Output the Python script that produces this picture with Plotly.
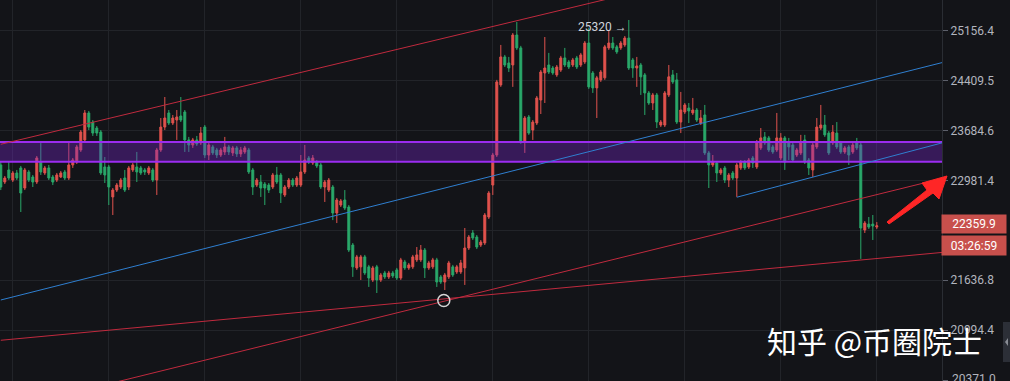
import plotly.graph_objects as go

# ---------------- data (hourly candles) ----------------
opens = [
 23197, 22959, 23127, 22987, 23085, 23155, 22876, 23099, 23029, 22959,
 23238, 23085, 23155, 23029, 22987, 23029, 23099, 23015, 23197, 23238,
 23408, 23550, 23937, 23806, 23720, 23663, 23169, 23169, 22753, 22848,
 22890, 23015, 22890, 23127, 23169, 23155, 23127, 23085, 23127, 22987,
 23408, 23734, 23937, 23792, 23835, 23893, 23951, 23550, 23479, 23550,
 23508, 23734, 23337, 23451, 23408, 23337, 23380, 23451, 23366, 23437,
 23352, 23380, 23408, 23127, 22917, 22959, 22931, 22917, 22890, 23057,
 23057, 22780, 22890, 22987, 22917, 22917, 23099, 23295, 23224, 23238,
 23197, 22890, 22848, 22890, 22533, 22642, 22711, 22615, 22102, 21798,
 21812, 21944, 21812, 21640, 21812, 21640, 21732, 21680, 21732, 21772,
 21666, 21877, 21798, 21812, 21904, 21904, 22035, 21798, 21812, 21904,
 21680, 21614, 21680, 21812, 21745, 21745, 21798, 22062, 22263, 22209,
 22102, 22129, 22479, 22917, 23337, 24346, 24761, 24671, 24641, 25091,
 24896, 23522, 23879, 23691, 23792, 24125, 24522, 24641, 24596, 24494,
 24566, 24746, 24686, 24641, 24746, 24641, 24686, 24970, 24522, 24302,
 24420, 24450, 24896, 24970, 24912, 24896, 24941, 25045, 24716, 24596,
 24641, 24494, 24228, 24081, 24199, 23763, 23763, 24199, 24494, 24420,
 23806, 23951, 24009, 23937, 23980, 23792, 23908, 23366, 23197, 23224,
 23085, 23155, 22987, 23085, 23015, 23155, 23238, 23169, 23295, 23169,
 23437, 23593, 23579, 23451, 23408, 23295, 23579, 23508, 23479, 23337,
 23366, 23550, 23266, 23127, 23451, 23720, 23763, 23648, 23508, 23648,
 23508, 23380, 23451, 23380, 23508, 23479, 22303, 22383, 22383, 22343]

highs = [
 23238, 23043, 23238, 23113, 23127, 23183, 23155, 23127, 23057, 23323,
 23508, 23183, 23197, 23057, 23085, 23113, 23127, 23508, 23295, 23479,
 23691, 23980, 23966, 23835, 23749, 23691, 23309, 23197, 22876, 22945,
 23015, 23127, 23183, 23224, 23380, 23183, 23155, 23183, 23155, 23437,
 23864, 24169, 23980, 23908, 23980, 24169, 23980, 23593, 23579, 23607,
 23734, 23763, 23508, 23479, 23437, 23437, 23593, 23479, 23465, 23465,
 23451, 23465, 23437, 23155, 23015, 23057, 22959, 22945, 23085, 23169,
 23085, 22917, 23015, 23015, 23043, 23337, 23479, 23323, 23337, 23266,
 23224, 22987, 23015, 22917, 22739, 22725, 22848, 22642, 22129, 21970,
 21970, 21970, 21838, 21825, 21838, 21732, 21759, 21759, 21759, 21798,
 21931, 21904, 21864, 21970, 22075, 22102, 22062, 21891, 21931, 21931,
 21706, 21732, 21891, 21838, 21838, 21904, 22330, 22236, 22303, 22236,
 22169, 22533, 22834, 23366, 24420, 24941, 24791, 24761, 25121, 25289,
 24927, 23893, 23908, 23835, 24184, 24566, 25061, 24821, 24626, 24641,
 24776, 24896, 24716, 24746, 24776, 24821, 25000, 25198, 24551, 24479,
 24566, 24941, 25167, 25061, 24941, 25000, 25076, 25320, 24746, 24761,
 24671, 24522, 24257, 24228, 24228, 23835, 24257, 24641, 24566, 24522,
 24243, 24081, 24081, 24155, 24009, 23980, 24053, 23394, 23337, 23252,
 23155, 23183, 23085, 23113, 23224, 23266, 23266, 23295, 23323, 23550,
 23720, 23663, 23607, 23479, 23937, 23648, 23607, 23579, 23508, 23437,
 23622, 23622, 23295, 23508, 23864, 24053, 23908, 23677, 23763, 23806,
 23536, 23465, 23479, 23508, 23579, 23508, 22424, 22479, 22506, 22410]

lows = [
 22848, 22931, 22987, 22959, 22987, 22547, 22848, 22959, 22890, 22931,
 23057, 23057, 22987, 22917, 22959, 23015, 22987, 22987, 23155, 23210,
 23380, 23522, 23691, 23607, 23607, 23057, 22945, 22642, 22506, 22821,
 22862, 22821, 22848, 23099, 22959, 23057, 23057, 23057, 22959, 22780,
 23380, 23691, 23763, 23763, 23550, 23806, 23380, 23380, 23437, 23465,
 23479, 23295, 23266, 23337, 23295, 23309, 23337, 23337, 23323, 23309,
 23309, 23352, 23071, 22780, 22890, 22753, 22642, 22807, 22862, 22931,
 22670, 22753, 22862, 22890, 22890, 22890, 23071, 23210, 23197, 23155,
 22862, 22684, 22821, 22437, 22397, 22615, 22574, 22008, 21680, 21772,
 21640, 21706, 21549, 21614, 21470, 21614, 21653, 21653, 21666, 21640,
 21640, 21772, 21772, 21785, 21877, 21877, 21666, 21772, 21785, 21549,
 21588, 21509, 21653, 21680, 21719, 21719, 21575, 22035, 22169, 22048,
 22075, 22102, 22452, 22780, 23309, 24317, 24611, 24537, 24317, 24866,
 23494, 23366, 23622, 23550, 23763, 23922, 24081, 24507, 24494, 24465,
 24537, 24611, 24581, 24611, 24581, 24611, 24656, 24287, 24228, 23864,
 24390, 24420, 24866, 24866, 24806, 24866, 24912, 24566, 24450, 24317,
 24199, 23908, 24053, 23980, 23720, 23734, 23734, 24169, 24361, 23778,
 23648, 23922, 23792, 23908, 23806, 23763, 23337, 22876, 23169, 22959,
 23057, 22945, 22890, 22987, 22753, 23127, 23127, 23141, 23155, 23141,
 23408, 23479, 23380, 23352, 23380, 23266, 23127, 23266, 23238, 23309,
 23337, 23210, 23057, 23029, 23423, 23691, 23593, 23337, 23479, 23423,
 23352, 23352, 23197, 23352, 23408, 21917, 22263, 22317, 22169, 22317]

closes = [
 22890, 23015, 23015, 23085, 23015, 22807, 23127, 22987, 22959, 23295,
 23099, 23155, 23015, 22959, 23057, 23085, 23015, 23197, 23266, 23451,
 23663, 23937, 23734, 23648, 23648, 23085, 23057, 22890, 22848, 22917,
 22987, 22848, 23155, 23197, 23099, 23085, 23099, 23155, 22987, 23408,
 23734, 23864, 23792, 23864, 23879, 23835, 23550, 23479, 23550, 23494,
 23648, 23337, 23479, 23366, 23337, 23408, 23451, 23380, 23437, 23352,
 23408, 23437, 23099, 22890, 22987, 22876, 22876, 22848, 23057, 22959,
 22807, 22890, 22987, 22917, 23015, 23099, 23266, 23238, 23295, 23183,
 22890, 22959, 22987, 22533, 22711, 22698, 22601, 22035, 21812, 21944,
 21944, 21732, 21666, 21798, 21640, 21706, 21680, 21732, 21693, 21666,
 21904, 21798, 21838, 21944, 21970, 22035, 21798, 21864, 21904, 21614,
 21614, 21706, 21864, 21706, 21812, 21864, 22062, 22209, 22196, 22075,
 22142, 22506, 22807, 23337, 24390, 24761, 24641, 24596, 25091, 24896,
 23522, 23864, 23648, 23806, 24155, 24537, 24596, 24537, 24522, 24611,
 24746, 24641, 24611, 24716, 24611, 24791, 24970, 24317, 24302, 24450,
 24537, 24912, 24970, 24896, 24836, 24970, 25045, 24596, 24596, 24626,
 24465, 24228, 24081, 24199, 23806, 23806, 24228, 24465, 24390, 23806,
 23980, 24053, 23966, 23980, 23835, 23864, 23366, 23197, 23238, 23085,
 23127, 22987, 23057, 23015, 23197, 23238, 23155, 23266, 23224, 23522,
 23579, 23508, 23408, 23380, 23579, 23579, 23238, 23451, 23266, 23408,
 23522, 23238, 23155, 23479, 23734, 23763, 23622, 23366, 23663, 23451,
 23380, 23437, 23337, 23479, 23437, 22330, 22397, 22343, 22357, 22359.9]

bar_index = list(range(len(closes)))

# price-axis ticks
tick_vals = [20371.0, 20994.4, 21636.8, 22299.2, 22981.4, 23684.6, 24409.5, 25156.4]
tick_text = ["", "20994.4", "21636.8", "", "22981.4", "23684.6", "24409.5", "25156.4"]
bottom_tick_label = "20371.0"
y_range = [4.308757, 4.408701]          # log10 of visible price range
x_range = [-0.2, 235.3]
day_ticks = [3 + 24 * k for k in range(10)]

# drawings (bar index, price)
band_top, band_bottom = 23520, 23242
red_upper = ([0, 155], [23488, 25692])
red_steep = ([0, 235.5], [20000, 23010])
red_shallow = ([0, 235.5], [20866, 22004])
blue_long = ([0, 235.5], [21380, 24679])
blue_short = ([184, 235.5], [22749, 23511])
pivot_low = (110.75, 21374)

last_price = "22359.9"
countdown = "03:26:59"
high_label = "25320 →"
watermark = "知乎 @币圈院士"

# ---------------- style ----------------
BG = "#131418"
GRID = "#222429"
UP = "#e0524d"
DOWN = "#2aa86a"
RED_LINE = "#c02a3e"
BLUE_LINE = "#2f7fd0"
W, H = 1010, 381
R_MARGIN = 68
PLOT_W = W - R_MARGIN


def px(xp):
    return xp / PLOT_W


def py(yp):
    return 1 - yp / H


fig = go.Figure()
fig.add_trace(go.Candlestick(
    x=bar_index, open=opens, high=highs, low=lows, close=closes,
    increasing=dict(line=dict(color=UP, width=1), fillcolor=UP),
    decreasing=dict(line=dict(color=DOWN, width=1), fillcolor=DOWN),
    whiskerwidth=0, hoverinfo="skip", showlegend=False))

# purple zone
fig.add_trace(go.Scatter(
    x=[-10, 250, 250, -10, -10],
    y=[band_top, band_top, band_bottom, band_bottom, band_top],
    mode="lines", fill="toself", fillcolor="rgba(120,40,205,0.36)",
    line=dict(color="#9b2cf0", width=2), hoverinfo="skip", showlegend=False))

for xs, ys, col in [(red_upper[0], red_upper[1], RED_LINE),
                    (red_steep[0], red_steep[1], RED_LINE),
                    (red_shallow[0], red_shallow[1], RED_LINE),
                    (blue_long[0], blue_long[1], BLUE_LINE),
                    (blue_short[0], blue_short[1], BLUE_LINE)]:
    fig.add_trace(go.Scatter(x=xs, y=ys, mode="lines",
                             line=dict(color=col, width=1),
                             hoverinfo="skip", showlegend=False))

fig.add_trace(go.Scatter(
    x=[pivot_low[0]], y=[pivot_low[1]], mode="markers",
    marker=dict(symbol="circle-open", size=12, color="#d6d6d6", line=dict(width=1.5)),
    hoverinfo="skip", showlegend=False))

# red hand-drawn arrow (tapered)
arrow_pts = [(887, 222), (927, 190), (922, 183), (947, 176), (939, 199), (933, 193), (889, 224)]
path = "M " + " L ".join(f"{px(a):.5f},{py(b):.5f}" for a, b in arrow_pts) + " Z"

shapes = [
    dict(type="path", xref="paper", yref="paper", path=path,
         fillcolor="#ff2626", line=dict(color="#ff2626", width=1), layer="above"),
    dict(type="rect", xref="paper", yref="paper", x0=px(1003), x1=px(1011),
         y0=py(362), y1=py(322), fillcolor="#2c2f37", line=dict(width=0), layer="above"),
    dict(type="path", xref="paper", yref="paper",
         path=f"M {px(1005):.5f},{py(342):.5f} L {px(1008):.5f},{py(338):.5f} L {px(1008):.5f},{py(346):.5f} Z",
         fillcolor="#8a8d95", line=dict(width=0), layer="above"),
]

annotations = [
    dict(xref="paper", yref="paper", x=px(602), y=py(18), text=high_label,
         showarrow=False, font=dict(family="Roboto", size=12, color="#d1d4dc")),
    dict(xref="paper", yref="paper", x=px(941), y=py(224), xanchor="left", yanchor="middle",
         text=last_price, showarrow=False, bgcolor="#c8504c", width=62, height=16,
         borderpad=1, font=dict(family="Roboto", size=12, color="#ffffff")),
    dict(xref="paper", yref="paper", x=px(941), y=py(245), xanchor="left", yanchor="middle",
         text=countdown, showarrow=False, bgcolor="#c8504c", width=62, height=17,
         borderpad=1, font=dict(family="Roboto", size=12, color="#ffffff")),
    dict(xref="paper", yref="paper", x=px(950), y=py(379), xanchor="left", yanchor="middle",
         text=bottom_tick_label, showarrow=False,
         font=dict(family="Roboto", size=12, color="#b2b5be")),
    dict(xref="paper", yref="paper", x=px(874), y=py(340), xanchor="center", yanchor="middle",
         text=watermark, showarrow=False,
         font=dict(family="Noto Sans CJK SC", size=30, color="#ffffff")),
]

fig.update_layout(
    width=W, height=H, margin=dict(l=0, r=R_MARGIN, t=0, b=0),
    paper_bgcolor=BG, plot_bgcolor=BG, showlegend=False,
    shapes=shapes, annotations=annotations, hovermode=False,
    xaxis=dict(range=x_range, tickvals=day_ticks, showticklabels=False,
               showgrid=True, gridcolor=GRID, gridwidth=1, zeroline=False,
               showline=False, ticks="", rangeslider=dict(visible=False), fixedrange=True),
    yaxis=dict(type="log", range=y_range, side="right", tickvals=tick_vals, ticktext=tick_text,
               showgrid=True, gridcolor=GRID, gridwidth=1, zeroline=False,
               ticks="outside", ticklen=5, tickcolor="#5d606b",
               tickfont=dict(family="Roboto", size=12, color="#b2b5be"),
               showline=True, linecolor="#2a2d33", linewidth=1, fixedrange=True),
)

fig.write_html("out.html", config={"displayModeBar": False},
               post_script="document.body.style.margin='0px';document.body.style.background='#131418';")
